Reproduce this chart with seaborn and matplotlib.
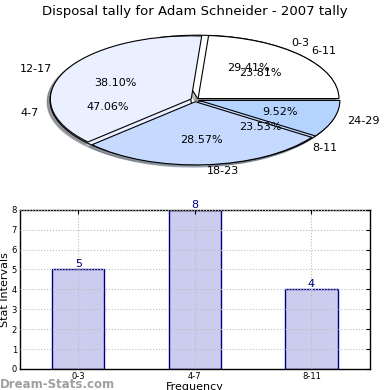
import matplotlib
matplotlib.use('Agg')
import matplotlib.pyplot as plt
import seaborn as sns
import pandas as pd

# data
bar_labels = ['0-3', '4-7', '8-11']
bar_values = [5, 8, 4]
pie2_labels = ['6-11', '12-17', '18-23', '24-29']
pie2_values = [5, 8, 6, 2]
pie_colors = ['#ffffff', '#eaf0ff', '#c6d9ff', '#b4d4ff']

sns.set_style("white")
plt.rcParams['font.family'] = ['DejaVu Sans']
plt.rcParams['text.color'] = 'black'
plt.rcParams['axes.labelcolor'] = 'black'
plt.rcParams['xtick.color'] = 'black'
plt.rcParams['ytick.color'] = 'black'

fig = plt.figure(figsize=(3.9, 3.9), dpi=100)

# Pie chart (two pies on the same axes, the second drawn over the first)
ax1 = fig.add_axes([0.0485, 0.5415, 0.903, 0.405])
shadow = {'ox': -0.015, 'oy': -0.025, 'shade': 0.5}
ax1.pie(bar_values, labels=bar_labels, autopct='%1.2f%%', colors=pie_colors[:3],
        explode=[0.03] * 3, shadow=shadow,
        wedgeprops={'edgecolor': 'black', 'linewidth': 0.8},
        textprops={'fontsize': 8})
ax1.pie(pie2_values, labels=pie2_labels, autopct='%1.2f%%', colors=pie_colors,
        explode=[0.03] * 4, shadow=shadow,
        wedgeprops={'edgecolor': 'black', 'linewidth': 0.8},
        textprops={'fontsize': 8})
ax1.set_aspect('auto')
ax1.set_xlim(-1.25, 1.25)
ax1.set_ylim(-1.25, 1.25)
ax1.set_title('Disposal tally for Adam Schneider - 2007 tally', fontsize=9.5, pad=4)

# Bar chart
ax2 = fig.add_axes([0.051, 0.054, 0.897, 0.408])
df = pd.DataFrame({'interval': bar_labels, 'count': bar_values})
sns.barplot(data=df, x='interval', y='count', color='#ccccee', saturation=1,
            edgecolor='#000080', linewidth=1, width=0.45, ax=ax2)
for i, v in enumerate(bar_values):
    ax2.text(i, v, str(v), ha='center', va='bottom', color='#000080', fontsize=8)
ax2.set_ylim(0, 8)
ax2.set_xlim(-0.5, 2.5)
ax2.set_yticks(range(9))
ax2.grid(True, linestyle=':', color='#bbbbbb', linewidth=0.8)
ax2.set_axisbelow(False)
ax2.tick_params(labelsize=6, direction='in', length=3, top=True, right=True, pad=2)
ax2.set_xlabel('Frequency', fontsize=8, labelpad=1)
ax2.set_ylabel('Stat Intervals', fontsize=8, labelpad=1)
for s in ax2.spines.values():
    s.set_color('black')
    s.set_linewidth(1)

fig.text(0.0, 0.004, 'Dream-Stats.com', color='#888888', fontsize=8.5,
         fontweight='bold', alpha=0.8)

plt.savefig('out.png', dpi=100)
plt.close()
